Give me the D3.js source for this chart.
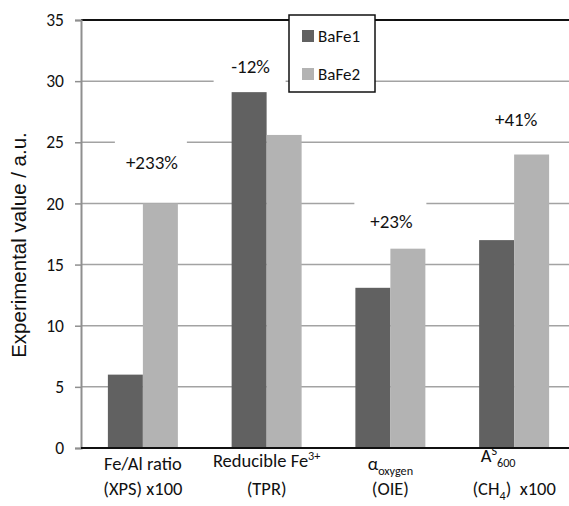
<!DOCTYPE html>
<html><head><meta charset="utf-8">
<script src="https://cdn.jsdelivr.net/npm/d3@7"></script>
<style>html,body{margin:0;padding:0;background:#fff;}svg{display:block;}</style>
</head><body>
<script>
// ---- data ----
const categories = ["Fe/Al ratio (XPS) x100", "Reducible Fe3+ (TPR)", "alpha oxygen (OIE)", "AS600 (CH4) x100"];
const catLine1 = ["Fe/Al ratio", "Reducible Fe<sup>3+</sup>", "α<sub>oxygen</sub>", "A<sup>S</sup><sub>600</sub>"];
const catLine2 = ["(XPS) x100", "(TPR)", "(OIE)", "(CH<sub>4</sub>)  x100"];
const seriesNames = ["BaFe1", "BaFe2"];
const bafe1 = [6.0, 29.1, 13.1, 17.0];
const bafe2 = [20.0, 25.6, 16.3, 24.0];
const changeLabels = ["+233%", "-12%", "+23%", "+41%"];
const yTicks = [0, 5, 10, 15, 20, 25, 30, 35];
const yTitle = "Experimental value / a.u.";

// ---- layout / style ----
const W = 569, H = 506;
const colors = ["#616161", "#b3b3b3"];
const calFont = "Carlito, Lato, 'Open Sans', sans-serif";
const annotOffset = [{dx: 9, dy: -41}, {dx: -16, dy: -26}, {dx: 1, dy: -27}, {dx: 2, dy: -35}];
const line1Dy = [0, -3, 0, -8];
const line1Dx = [0, 0, 0, -16];

const svg = d3.select("body").append("svg").attr("width", W).attr("height", H);

const x0 = d3.scaleBand().domain(categories).range([81, 576]).paddingInner(0).paddingOuter(0);
const x1 = d3.scaleBand().domain(seriesNames).range([0, x0.bandwidth()]).paddingInner(0).paddingOuter(0.768);
const y = d3.scaleLinear().domain([0, 35]).range([448, 20]);

// gridlines
svg.append("g").selectAll("line").data(yTicks.filter(t => t > 0 && t < 35)).join("line")
  .attr("x1", 81).attr("x2", W).attr("y1", d => y(d)).attr("y2", d => y(d))
  .attr("stroke", "#a3a3a3").attr("stroke-width", 1.5);
// top line
svg.append("line").attr("x1", 81).attr("x2", W).attr("y1", y(35)).attr("y2", y(35))
  .attr("stroke", "#111").attr("stroke-width", 2);

// y axis
const yAxis = svg.append("g").attr("transform", "translate(81,0)")
  .call(d3.axisLeft(y).tickValues(yTicks).tickSize(6).tickPadding(11));
yAxis.select(".domain").attr("stroke", "#8f8f8f").attr("stroke-width", 2);
yAxis.selectAll(".tick line").attr("stroke", "#8f8f8f").attr("stroke-width", 1.5);
yAxis.selectAll(".tick text").attr("font-family", calFont).attr("font-size", 17.5).attr("fill", "#111");

// bars
const groups = svg.append("g").selectAll("g").data(categories).join("g")
  .attr("transform", d => `translate(${x0(d)},0)`);
groups.selectAll("rect").data((d, i) => [bafe1[i], bafe2[i]].map((v, k) => ({v, s: seriesNames[k], k})))
  .join("rect")
  .attr("x", d => x1(d.s)).attr("width", x1.bandwidth())
  .attr("y", d => y(d.v)).attr("height", d => y(0) - y(d.v))
  .attr("fill", d => colors[d.k]);

// x axis baseline
svg.append("line").attr("x1", 81).attr("x2", W).attr("y1", y(0)).attr("y2", y(0))
  .attr("stroke", "#111").attr("stroke-width", 2);

// annotations
categories.forEach((c, i) => {
  const cx = x0(c) + x0.bandwidth() / 2 + annotOffset[i].dx;
  const cy = y(Math.max(bafe1[i], bafe2[i])) + annotOffset[i].dy;
  svg.append("rect").attr("x", cx - 37).attr("y", cy - 23).attr("width", 72).attr("height", 40).attr("fill", "#fff");
  svg.append("text").attr("x", cx).attr("y", cy).attr("text-anchor", "middle").attr("dy", "0.35em")
    .attr("font-family", calFont).attr("font-size", 19).attr("fill", "#111").text(changeLabels[i]);
});

// rich text helper
function rich(sel, str, size) {
  const parts = str.split(/(<su[pb]>.*?<\/su[pb]>)/).filter(s => s.length);
  let shift = 0;
  parts.forEach(p => {
    const m = p.match(/<(su[pb])>(.*?)<\/su[pb]>/);
    if (m) {
      const target = m[1] === "sup" ? -size * 0.4 : size * 0.25;
      sel.append("tspan").attr("dy", target - shift).attr("font-size", size * 0.66).text(m[2]);
      shift = target;
    } else {
      sel.append("tspan").attr("dy", -shift).attr("font-size", size).text(p);
      shift = 0;
    }
  });
}

// category labels
categories.forEach((c, i) => {
  const cx = x0(c) + x0.bandwidth() / 2;
  const t1 = svg.append("text").attr("x", cx + line1Dx[i]).attr("y", 470 + line1Dy[i]).attr("text-anchor", "middle")
    .attr("font-family", calFont).attr("fill", "#111").attr("font-size", 18.5);
  rich(t1, catLine1[i], 18.5);
  const t2 = svg.append("text").attr("x", cx).attr("y", 495).attr("text-anchor", "middle")
    .attr("font-family", calFont).attr("fill", "#111").attr("font-size", 18.5).attr("xml:space", "preserve");
  rich(t2, catLine2[i], 18.5);
});

// y title
svg.append("text").attr("transform", "translate(26,245) rotate(-90)").attr("text-anchor", "middle")
  .attr("font-family", "'Liberation Sans', Arial, sans-serif").attr("font-size", 20.5).attr("fill", "#111").text(yTitle);

// legend
const lg = svg.append("g");
lg.append("rect").attr("x", 289).attr("y", 15).attr("width", 86).attr("height", 77)
  .attr("fill", "#fff").attr("stroke", "#111").attr("stroke-width", 1.5);
seriesNames.forEach((s, k) => {
  const cy = 36 + k * 38;
  lg.append("rect").attr("x", 302).attr("y", cy - 6).attr("width", 12).attr("height", 12).attr("fill", colors[k]);
  lg.append("text").attr("x", 318).attr("y", cy).attr("dy", "0.35em").attr("font-family", calFont)
    .attr("font-size", 17).attr("fill", "#111").text(s);
});
</script>
</body></html>
